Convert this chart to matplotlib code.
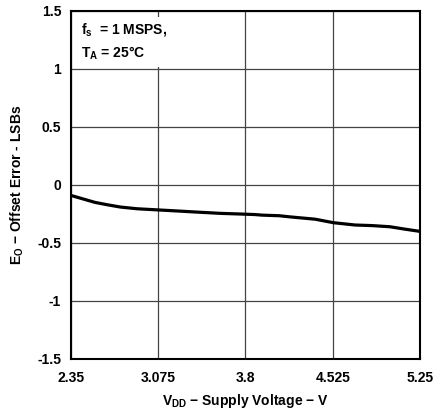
import numpy as np
import matplotlib
matplotlib.use('Agg')
import matplotlib.pyplot as plt

plt.rcParams['font.family'] = ['Liberation Sans', 'DejaVu Sans']
plt.rcParams['font.weight'] = 'bold'
plt.rcParams['mathtext.fontset'] = 'custom'
plt.rcParams['mathtext.rm'] = 'Liberation Sans:bold'
plt.rcParams['mathtext.it'] = 'Liberation Sans:bold'
plt.rcParams['mathtext.bf'] = 'Liberation Sans:bold'

# supply voltage, V and offset error, LSBs
vdd = [2.35, 2.45, 2.55, 2.65, 2.76, 2.9, 3.075, 3.25, 3.42, 3.6,
       3.75, 3.88, 3.94, 4.08, 4.17, 4.38, 4.53, 4.71, 4.85, 5.0, 5.12, 5.25]
offset = [-0.09, -0.12, -0.15, -0.17, -0.19, -0.205, -0.215, -0.225, -0.235, -0.245,
          -0.25, -0.255, -0.26, -0.265, -0.275, -0.295, -0.325, -0.345, -0.35, -0.36, -0.38, -0.40]

xticks = [2.35, 3.075, 3.8, 4.525, 5.25]
xticklabels = ['2.35', '3.075', '3.8', '4.525', '5.25']
yticks = [-1.5, -1, -0.5, 0, 0.5, 1, 1.5]
yticklabels = ['-1.5', '-1', '-0.5', '0', '0.5', '1', '1.5']

fig = plt.figure(figsize=(4.35, 4.15), dpi=100)
ax = fig.add_axes([0.163, 0.135, 0.8025, 0.8385])

ax.plot(vdd, offset, color='black', linewidth=2.3, zorder=3)

ax.set_xlim(2.35, 5.25)
ax.set_ylim(-1.5, 1.5)
ax.set_xticks(xticks)
ax.set_xticklabels(xticklabels, fontsize=10, fontweight='bold')
ax.set_yticks(yticks)
ax.set_yticklabels(yticklabels, fontsize=10, fontweight='bold')
ax.tick_params(axis='x', length=0, pad=9)
ax.tick_params(axis='y', length=0, pad=7)
ax.grid(True, color='#444444', linewidth=0.9)
for s in ax.spines.values():
    s.set_linewidth(1.5)

ax.set_xlabel(r'V$_{\mathrm{DD}}$ $-$ Supply Voltage $-$ V', fontsize=10,
              fontweight='bold', labelpad=5)
ax.set_ylabel(r'E$_{\mathrm{O}}$ $-$ Offset Error - LSBs', fontsize=10,
              fontweight='bold', labelpad=8)

ax.text(2.43, 1.41, 'f$_{\\mathrm{s}}$  = 1 MSPS,\nT$_{\\mathrm{A}}$ = 25°C',
        fontsize=10, fontweight='bold', va='top', ha='left', linespacing=1.5,
        bbox=dict(facecolor='white', edgecolor='none', pad=3), zorder=4)

fig.savefig('out.png', dpi=100)
